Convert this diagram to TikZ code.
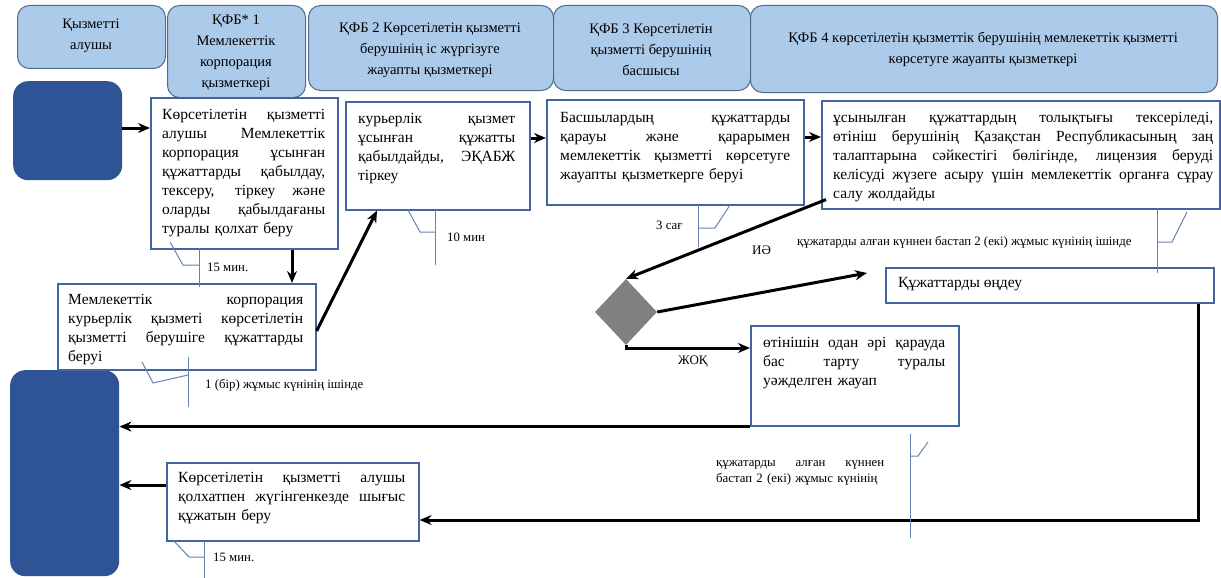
\documentclass[tikz,border=0pt]{standalone}
\usepackage{fontspec}
\setmainfont{Liberation Serif}
\usetikzlibrary{shapes.geometric,arrows.meta}
\definecolor{hdrfill}{RGB}{172,202,233}
\definecolor{hdrline}{RGB}{80,108,140}
\definecolor{boxline}{RGB}{66,100,160}
\definecolor{darkblue}{RGB}{47,84,150}
\definecolor{callline}{RGB}{100,130,175}
\definecolor{diagray}{RGB}{128,128,128}
\newcommand{\boxfont}{\fontsize{15.5}{19}\selectfont}
\newcommand{\hdrfont}{\fontsize{14.5}{21}\selectfont}
\newcommand{\smfont}{\fontsize{12.8}{16}\selectfont}
\newcommand{\lblfont}{\fontsize{13}{16}\selectfont}
\newcommand{\jl}[2]{\makebox[#1][s]{\spaceskip=.25em plus 1fil\xspaceskip=.25em plus 1fil\relax #2}\\}
\tikzset{
  hdr/.style={draw=hdrline, fill=hdrfill, rounded corners=12pt, line width=1pt, align=center, font=\hdrfont, inner sep=0pt, anchor=north west},
  pbox/.style={draw=boxline, line width=1.6pt, fill=white, inner sep=0pt, anchor=north west},
  txt/.style={anchor=north west, inner sep=0pt, align=left, font=\boxfont},
  arr/.style={-{Stealth[length=12pt,width=10pt]}, line width=3pt},
  call/.style={draw=callline, line width=1pt},
  small/.style={font=\smfont, inner sep=0pt, anchor=west},
  lbl/.style={font=\lblfont, inner sep=0pt, anchor=west},
  dark/.style={fill=darkblue, rounded corners=15pt, draw=none, inner sep=0pt, anchor=north west},
}
\begin{document}
\begin{tikzpicture}[x=1pt,y=-1pt]
\useasboundingbox (0,0) rectangle (1221,578);
% headers
\node[hdr, minimum width=148pt, minimum height=63pt] (h1) at (17,5) {};
\node[font=\hdrfont, align=center, inner sep=0pt] (h1t) at (91,36) {Қызметті\\алушы};
\node[hdr, minimum width=138pt, minimum height=92pt] (h2) at (167,5) {};
\node[font=\hdrfont, align=center, inner sep=0pt] (h2t) at (236,53) {ҚФБ* 1\\Мемлекеттік\\корпорация\\қызметкері};
\node[hdr, minimum width=245pt, minimum height=85pt] (h3) at (308,5) {};
\node[font=\hdrfont, align=center, inner sep=0pt] (h3t) at (430,50) {ҚФБ 2 Көрсетілетін қызметті\\берушінің іс жүргізуге\\жауапты қызметкері};
\node[hdr, minimum width=197pt, minimum height=85pt] (h4) at (553,5) {};
\node[font=\hdrfont, align=center, inner sep=0pt] (h4t) at (651,50) {ҚФБ 3 Көрсетілетін\\қызметті берушінің\\басшысы};
\node[hdr, minimum width=467pt, minimum height=87pt] (h5) at (750,5) {};
\node[font=\hdrfont, align=center, inner sep=0pt] (h5t) at (983,49) {ҚФБ 4 көрсетілетін қызметтік берушінің мемлекеттік қызметті\\көрсетуге жауапты қызметкері};
% dark boxes
\node[dark, minimum width=109pt, minimum height=99pt] (d1) at (13,81) {};
\node[dark, minimum width=109pt, minimum height=206pt] (d2) at (10,370) {};
% process boxes
\node[pbox, minimum width=187pt, minimum height=151pt] (A) at (150,97) {};
\node[txt, text width=163pt] (At) at (162,109) {\jl{163pt}{Көрсетілетін қызметті}\jl{163pt}{алушы Мемлекеттік}\jl{163pt}{корпорация ұсынған}\jl{163pt}{құжаттарды қабылдау,}\jl{163pt}{тексеру, тіркеу және}\jl{163pt}{оларды қабылдағаны}туралы қолхат беру};
\node[pbox, minimum width=258pt, minimum height=86pt] (B) at (57,283) {};
\node[txt, text width=235pt] (Bt) at (68,294) {\jl{235pt}{Мемлекеттік корпорация}\jl{235pt}{курьерлік қызметі көрсетілетін}\jl{235pt}{қызметті берушіге құжаттарды}беруі};
\node[pbox, minimum width=184pt, minimum height=108pt] (C) at (345,101) {};
\node[txt, text width=157pt] (Ct) at (358,113) {\jl{157pt}{курьерлік қызмет}\jl{157pt}{ұсынған құжатты}\jl{157pt}{қабылдайды, ЭҚАБЖ}тіркеу};
\node[pbox, minimum width=257pt, minimum height=105pt] (D) at (546,99) {};
\node[txt, text width=230pt] (Dt) at (560,112) {\jl{230pt}{Басшылардың құжаттарды}\jl{230pt}{қарауы және қарарымен}\jl{230pt}{мемлекеттік қызметті көрсетуге}жауапты қызметкерге беруі};
\node[pbox, minimum width=398pt, minimum height=108pt] (E) at (821,100) {};
\node[txt, text width=380pt] (Et) at (833,112) {\jl{380pt}{ұсынылған құжаттардың толықтығы тексеріледі,}\jl{380pt}{өтініш берушінің Қазақстан Республикасының заң}\jl{380pt}{талаптарына сәйкестігі бөлігінде, лицензия беруді}\jl{380pt}{келісуді жүзеге асыру үшін мемлекеттік органға сұрау}салу жолдайды};
\node[pbox, minimum width=328pt, minimum height=35pt] (F) at (885,267) {};
\node[txt, anchor=west] (Ft) at (898,284) {Құжаттарды өңдеу};
\node[pbox, minimum width=208pt, minimum height=100pt] (G) at (750,325) {};
\node[txt, text width=182pt] (Gt) at (763,337) {\jl{182pt}{өтінішін одан әрі қарауда}\jl{182pt}{бас тарту туралы}уәжделген жауап};
\node[pbox, minimum width=252pt, minimum height=78pt] (H) at (166,462) {};
\node[txt, text width=227pt] (Ht) at (178,472) {\jl{227pt}{Көрсетілетін қызметті алушы}\jl{227pt}{қолхатпен жүгінгенкезде шығыс}құжатын беру};
% diamond
\node[diamond, fill=diagray, draw=none, inner sep=0pt, minimum width=62pt, minimum height=66pt] (dia) at (626,312) {};
% helper coordinates
\coordinate (ya) at (0,128);
\coordinate (xa) at (292,0);
\coordinate (yb) at (0,331);
\coordinate (xc) at (377,0);
\coordinate (yc) at (0,138);
\coordinate (yd) at (0,137);
\coordinate (fin) at (867,273);
\coordinate (yg) at (0,348);
\coordinate (xf) at (1198,0);
\coordinate (yh) at (0,520);
\coordinate (yh2) at (0,485);
% arrows
\draw[arr] (d1.east |- ya) -- (A.west |- ya);
\draw[arr] (A.south -| xa) -- (B.north -| xa);
\draw[arr] (B.east |- yb) -- (C.south -| xc);
\draw[arr] (C.east |- yc) -- (D.west |- yc);
\draw[arr] (D.east |- yd) -- (E.west |- yd);
\draw[arr] ([xshift=5pt,yshift=10pt]E.south west) -- (dia.north);
\draw[arr] (dia.east) -- (fin);
\draw[arr] (dia.south) |- (G.west |- yg);
\draw[arr] (G.south west) -- (G.south west -| d2.east);
\draw[arr] (F.south -| xf) |- (H.east |- yh);
\draw[arr] (H.west |- yh2) -- (d2.east |- yh2);
% labels
\node[lbl] (ie) at (752,250) {ИӘ};
\node[lbl] (jok) at (678,362) {ЖОҚ};
% callouts
\draw[call] (170,242) -- (183,265) -- (199,265);
\draw[call] (199,248) -- (199,287);
\node[small] (c1) at (207,267) {15 мин.};
\draw[call] (142,362) -- (153,383) -- (188,375);
\draw[call] (188,357) -- (188,407);
\node[small] (c2) at (205,385) {1 (бір) жұмыс күнінің ішінде};
\draw[call] (408,210) -- (420,232) -- (435,232);
\draw[call] (435,210) -- (435,265);
\node[small] (c3) at (447,237) {10 мин};
\draw[call] (730,205) -- (715,228) -- (698,228);
\draw[call] (698,205) -- (698,247);
\node[small] (c4) at (656,225) {3 сағ};
\draw[call] (1187,212) -- (1172,242) -- (1157,242);
\draw[call] (1157,209) -- (1157,273);
\node[small] (c5) at (797,242) {құжатарды алған күннен бастап 2 (екі) жұмыс күнінің ішінде};
\draw[call] (928,442) -- (918,456) -- (910,456);
\draw[call] (910,434) -- (910,538);
\node[small, anchor=north west, text width=168pt, align=left] (c6) at (716,460) {\jl{168pt}{құжатарды алған күннен}бастап 2 (екі) жұмыс күнінің};
\draw[call] (174,541) -- (189,557) -- (204,557);
\draw[call] (204,541) -- (204,578);
\node[small] (c7) at (213,557) {15 мин.};
\end{tikzpicture}
\end{document}
